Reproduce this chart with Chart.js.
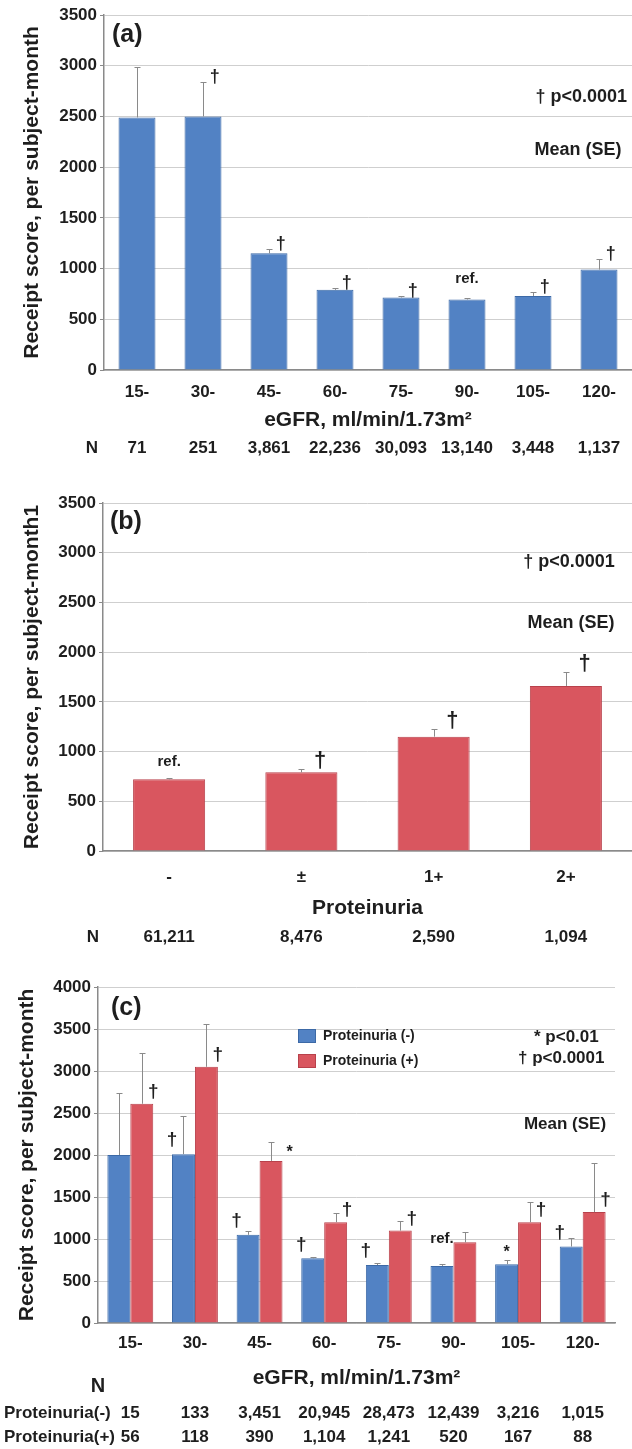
<!DOCTYPE html>
<html>
<head>
<meta charset="utf-8">
<script src="https://cdn.jsdelivr.net/npm/chart.js@4.4.1/dist/chart.umd.min.js"></script>
<style>
  body { margin: 0; background: #fff; width: 632px; height: 1449px; position: relative; overflow: hidden; }
  canvas { position: absolute; left: 0; }
</style>
</head>
<body>
<canvas id="chartA" width="632" height="470" style="top:0px"></canvas>
<canvas id="chartB" width="632" height="490" style="top:470px"></canvas>
<canvas id="chartC" width="632" height="489" style="top:960px"></canvas>
<script>
// (a) receipt score by eGFR
const egfrLabels = ['15-', '30-', '45-', '60-', '75-', '90-', '105-', '120-'];
const egfrMean = [2490, 2500, 1150, 790, 715, 695, 730, 990];
const egfrUpper = [2990, 2840, 1190, 810, 730, 705, 765, 1095];
const egfrN = ['71', '251', '3,861', '22,236', '30,093', '13,140', '3,448', '1,137'];
const egfrMarks = ['', '†', '†', '†', '†', 'ref.', '†', '†'];

// (b) receipt score by proteinuria
const protLabels = ['-', '±', '1+', '2+'];
const protMean = [721, 791, 1150, 1660];
const protUpper = [737, 825, 1227, 1797];
const protN = ['61,211', '8,476', '2,590', '1,094'];
const protMarks = ['ref.', '†', '†', '†'];

// (c) eGFR x proteinuria
const negMean = [2000, 2010, 1050, 770, 690, 680, 700, 910];
const negUpper = [2740, 2470, 1100, 790, 710, 700, 750, 1010];
const negN = ['15', '133', '3,451', '20,945', '28,473', '12,439', '3,216', '1,015'];
const negMarks = ['', '†', '†', '†', '†', 'ref.', '*', '†'];
const posMean = [2610, 3050, 1930, 1200, 1100, 960, 1200, 1320];
const posUpper = [3220, 3560, 2150, 1310, 1220, 1080, 1440, 1910];
const posN = ['56', '118', '390', '1,104', '1,241', '520', '167', '88'];
const posMarks = ['†', '†', '*', '†', '†', '', '†', '†'];

const FONT = "'Liberation Sans', Arial, Helvetica, sans-serif";
const INK = '#1e1e1e';
const BLUE = '#5282c4', BLUE_EDGE = '#3c69a6';
const RED = '#d9565f', RED_EDGE = '#b8414b';

const errorBars = {
    id: 'errorBars',
    afterDatasetsDraw(chart) {
        const ctx = chart.ctx;
        const y = chart.scales.y;
        ctx.save();
        ctx.strokeStyle = '#8a8a8a';
        ctx.lineWidth = 1;
        chart.data.datasets.forEach((ds, i) => {
            chart.getDatasetMeta(i).data.forEach((bar, j) => {
                const top = Math.round(y.getPixelForValue(ds.upper[j])) + 0.5;
                const x = Math.round(bar.x) + 0.5;
                ctx.beginPath();
                ctx.moveTo(x, bar.y);
                ctx.lineTo(x, top);
                ctx.moveTo(x - 3, top);
                ctx.lineTo(x + 3, top);
                ctx.stroke();
            });
        });
        ctx.restore();
    }
};

// significance marks next to the bars
const sigMarks = {
    id: 'sigMarks',
    afterDatasetsDraw(chart) {
        const ctx = chart.ctx;
        const y = chart.scales.y;
        ctx.save();
        ctx.fillStyle = INK;
        ctx.textAlign = 'center';
        ctx.textBaseline = 'middle';
        chart.data.datasets.forEach((ds, i) => {
            chart.getDatasetMeta(i).data.forEach((bar, j) => {
                const m = ds.marks[j];
                if (!m) return;
                const errTop = y.getPixelForValue(ds.upper[j]);
                let px, py, size = ds.markSize;
                if (m === 'ref.') {
                    size = 15;
                    px = bar.x;
                    py = bar.y - ds.refLift;
                } else if (m === '*') {
                    size = 16;
                    if (ds.markMode === 'left') { px = bar.x; py = errTop - 7; }
                    else { px = bar.x + bar.width / 2 + 7; py = errTop + 10; }
                } else if (ds.markMode === 'left') {
                    px = bar.x - bar.width / 2;
                    py = bar.y - 14;
                } else if (ds.markMode === 'right') {
                    px = bar.x + bar.width / 2;
                    py = bar.y - 12;
                } else {
                    px = bar.x + bar.width * ds.markDx;
                    py = errTop - ds.markLift;
                }
                ctx.font = `bold ${size}px ${FONT}`;
                ctx.fillText(m, px, py);
            });
        });
        ctx.restore();
    }
};

const panelText = {
    id: 'panelText',
    afterDraw(chart, args, opts) {
        const ctx = chart.ctx;
        const x = chart.scales.x;
        ctx.save();
        ctx.fillStyle = INK;
        ctx.textBaseline = 'middle';
        (opts.texts || []).forEach(t => {
            ctx.font = `bold ${t.size}px ${FONT}`;
            ctx.textAlign = t.align || 'left';
            ctx.fillText(t.text, t.x, t.y);
        });
        (opts.rows || []).forEach(r => {
            ctx.font = `bold ${r.size}px ${FONT}`;
            ctx.textAlign = r.labelAlign || 'left';
            ctx.fillText(r.label, r.labelX, r.y);
            ctx.textAlign = 'center';
            r.values.forEach((v, j) => ctx.fillText(v, x.getPixelForValue(j), r.y));
        });
        if (opts.legend) {
            const lg = opts.legend;
            chart.data.datasets.forEach((ds, i) => {
                const cy = lg.y + i * lg.gap;
                ctx.fillStyle = ds.backgroundColor;
                ctx.fillRect(lg.x, cy - 7, 18, 14);
                ctx.strokeStyle = ds.borderColor;
                ctx.lineWidth = 1;
                ctx.strokeRect(lg.x + 0.5, cy - 6.5, 17, 13);
                ctx.fillStyle = INK;
                ctx.font = `bold 14px ${FONT}`;
                ctx.textAlign = 'left';
                ctx.fillText(ds.label, lg.x + 25, cy);
            });
        }
        ctx.restore();
    }
};

function makeOptions(cfg) {
    return {
        responsive: false,
        animation: false,
        devicePixelRatio: 1,
        layout: { padding: { top: cfg.top, right: cfg.right, bottom: cfg.bottom, left: 0 } },
        plugins: {
            legend: { display: false },
            tooltip: { enabled: false },
            panelText: cfg.text
        },
        scales: {
            x: {
                grid: { display: false, drawTicks: false },
                border: { color: '#8a8a8a', width: 1.5 },
                ticks: { color: INK, padding: cfg.tickPad, font: { family: FONT, size: 17, weight: 'bold' } },
                title: {
                    display: true,
                    text: cfg.xTitle,
                    color: INK,
                    padding: { top: 0, bottom: 2 },
                    font: { family: FONT, size: 21, weight: 'bold' }
                },
                afterFit: s => { s.height = cfg.xHeight; }
            },
            y: {
                min: 0,
                max: cfg.yMax,
                ticks: {
                    stepSize: 500, color: INK, padding: 3,
                    font: { family: FONT, size: 17, weight: 'bold' },
                    callback: v => String(v)
                },
                grid: { color: '#cfcfcf', tickLength: 4, tickColor: '#8a8a8a' },
                border: { color: '#8a8a8a', width: 1.5 },
                title: {
                    display: true,
                    text: cfg.yTitle,
                    color: INK,
                    padding: { top: cfg.yTitlePad, bottom: 0 },
                    font: { family: FONT, size: 21, weight: 'bold' }
                },
                afterFit: s => { s.width = cfg.left; }
            }
        }
    };
}

new Chart(document.getElementById('chartA'), {
    type: 'bar',
    data: {
        labels: egfrLabels,
        datasets: [{
            data: egfrMean, upper: egfrUpper, marks: egfrMarks,
            markMode: 'err', markDx: 0.32, markLift: 5, markSize: 18, refLift: 21,
            backgroundColor: BLUE, borderColor: BLUE_EDGE, borderWidth: 1,
            categoryPercentage: 1, barPercentage: 0.56
        }]
    },
    options: makeOptions({
        top: 15, right: 0, bottom: 35, left: 104, xHeight: 65, tickPad: 12, yMax: 3500, yTitlePad: 20,
        xTitle: 'eGFR, ml/min/1.73m²',
        yTitle: 'Receipt score, per subject-month',
        text: {
            texts: [
                { text: '(a)', x: 112, y: 35, size: 25 },
                { text: '† p<0.0001', x: 627, y: 97, size: 18, align: 'right' },
                { text: 'Mean (SE)', x: 578, y: 150, size: 18, align: 'center' }
            ],
            rows: [{ label: 'N', labelX: 92, labelAlign: 'center', y: 448, size: 17, values: egfrN }]
        }
    }),
    plugins: [errorBars, sigMarks, panelText]
});

new Chart(document.getElementById('chartB'), {
    type: 'bar',
    data: {
        labels: protLabels,
        datasets: [{
            data: protMean, upper: protUpper, marks: protMarks,
            markMode: 'err', markDx: 0.26, markLift: 8, markSize: 22, refLift: 17,
            backgroundColor: RED, borderColor: RED_EDGE, borderWidth: 1,
            categoryPercentage: 1, barPercentage: 0.545
        }]
    },
    options: makeOptions({
        top: 33, right: 0, bottom: 37, left: 103, xHeight: 72, tickPad: 16, yMax: 3500, yTitlePad: 20,
        xTitle: 'Proteinuria',
        yTitle: 'Receipt score, per subject-month1',
        text: {
            texts: [
                { text: '(b)', x: 110, y: 52, size: 25 },
                { text: '† p<0.0001', x: 569, y: 92, size: 18, align: 'center' },
                { text: 'Mean (SE)', x: 571, y: 153, size: 18, align: 'center' }
            ],
            rows: [{ label: 'N', labelX: 93, labelAlign: 'center', y: 467, size: 17, values: protN }]
        }
    }),
    plugins: [errorBars, sigMarks, panelText]
});

new Chart(document.getElementById('chartC'), {
    type: 'bar',
    data: {
        labels: egfrLabels,
        datasets: [{
            label: 'Proteinuria (-)',
            data: negMean, upper: negUpper, marks: negMarks,
            markMode: 'left', markSize: 19, refLift: 27,
            backgroundColor: BLUE, borderColor: BLUE_EDGE, borderWidth: 1,
            categoryPercentage: 0.71, barPercentage: 1
        }, {
            label: 'Proteinuria (+)',
            data: posMean, upper: posUpper, marks: posMarks,
            markMode: 'right', markSize: 19, refLift: 27,
            backgroundColor: RED, borderColor: RED_EDGE, borderWidth: 1,
            categoryPercentage: 0.71, barPercentage: 1
        }]
    },
    options: makeOptions({
        top: 27, right: 17, bottom: 56, left: 98, xHeight: 70, tickPad: 10, yMax: 4000, yTitlePad: 15,
        xTitle: 'eGFR, ml/min/1.73m²',
        yTitle: 'Receipt score, per subject-month',
        text: {
            texts: [
                { text: '(c)', x: 111, y: 48, size: 25 },
                { text: '* p<0.01', x: 534, y: 77, size: 17 },
                { text: '† p<0.0001', x: 518, y: 98, size: 17 },
                { text: 'Mean (SE)', x: 565, y: 164, size: 17, align: 'center' },
                { text: 'N', x: 98, y: 426, size: 20, align: 'center' }
            ],
            rows: [
                { label: 'Proteinuria(-)', labelX: 4, y: 453, size: 17, values: negN },
                { label: 'Proteinuria(+)', labelX: 4, y: 477, size: 17, values: posN }
            ],
            legend: { x: 298, y: 76, gap: 25 }
        }
    }),
    plugins: [errorBars, sigMarks, panelText]
});
</script>
</body>
</html>
